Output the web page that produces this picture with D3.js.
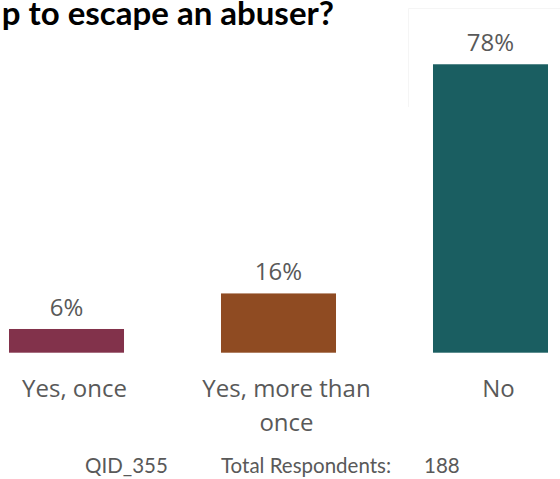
<!DOCTYPE html>
<html>
<head>
<meta charset="utf-8">
<script src="https://cdn.jsdelivr.net/npm/d3@7/dist/d3.min.js"></script>
<style>
  html, body { margin: 0; padding: 0; background: #ffffff; }
  svg { display: block; }
</style>
</head>
<body>
<script>
// ---- data ----
const categories = ["Yes, once", "Yes, more than once", "No"];
const counts = [12, 30, 146];
const totalRespondents = 188;
const percents = counts.map(c => c / totalRespondents * 100);
const valueLabels = ["6%", "16%", "78%"];
const categoryLines = [["Yes, once"], ["Yes, more than", "once"], ["No"]];
const colors = ["#82324B", "#8F4B22", "#1A5E61"];
const titleText = "p to escape an abuser?";
const footerTexts = ["QID_355", "Total Respondents:", String(totalRespondents)];

// ---- layout ----
const W = 560, H = 479;
const svg = d3.select("body").append("svg").attr("width", W).attr("height", H);

const x = d3.scaleBand().domain(categories).range([9, 548]).paddingInner(0.4575).paddingOuter(0);
const y = d3.scaleLinear().domain([0, 100]).range([352.7, -18.7]);

const titleFont = "Lato, Carlito, sans-serif";
const labelFont = "'Open Sans', 'Noto Sans', sans-serif";
const footFont = "Lato, Carlito, sans-serif";
const gray = "#595959";

// faint frame remnant
svg.append("path")
  .attr("d", "M408.5,107 V8.5 H560")
  .attr("fill", "none").attr("stroke", "#f5f5f5").attr("stroke-width", 1);

// title
svg.append("text")
  .attr("x", 334).attr("y", 25)
  .attr("text-anchor", "end")
  .attr("font-family", titleFont).attr("font-weight", 700).attr("font-size", 33)
  .attr("fill", "#000").text(titleText);

// bars
svg.selectAll("rect.bar").data(categories).join("rect")
  .attr("class", "bar")
  .attr("x", d => x(d))
  .attr("width", x.bandwidth())
  .attr("y", (d, i) => y(percents[i]))
  .attr("height", (d, i) => y(0) - y(percents[i]))
  .attr("fill", (d, i) => colors[i]);

// value labels
svg.selectAll("text.val").data(categories).join("text")
  .attr("class", "val")
  .attr("x", d => x(d) + x.bandwidth() / 2)
  .attr("y", (d, i) => y(percents[i]) - 13)
  .attr("text-anchor", "middle")
  .attr("font-family", labelFont).attr("font-size", 24)
  .attr("fill", gray)
  .text((d, i) => valueLabels[i]);

// category labels
const cat = svg.selectAll("text.cat").data(categories).join("text")
  .attr("class", "cat")
  .attr("text-anchor", "middle")
  .attr("font-family", labelFont).attr("font-size", 24)
  .attr("fill", gray);
cat.each(function(d, i) {
  const t = d3.select(this);
  categoryLines[i].forEach((line, j) => {
    t.append("tspan")
      .attr("x", x(d) + x.bandwidth() / 2 + 8)
      .attr("y", 397 + j * 34)
      .text(line);
  });
});

// footer
const footerX = [85, 221, 424];
svg.selectAll("text.foot").data(footerTexts).join("text")
  .attr("class", "foot")
  .attr("x", (d, i) => footerX[i])
  .attr("y", 473)
  .attr("font-family", footFont).attr("font-size", 20.5)
  .attr("fill", gray)
  .text(d => d);
</script>
</body>
</html>
